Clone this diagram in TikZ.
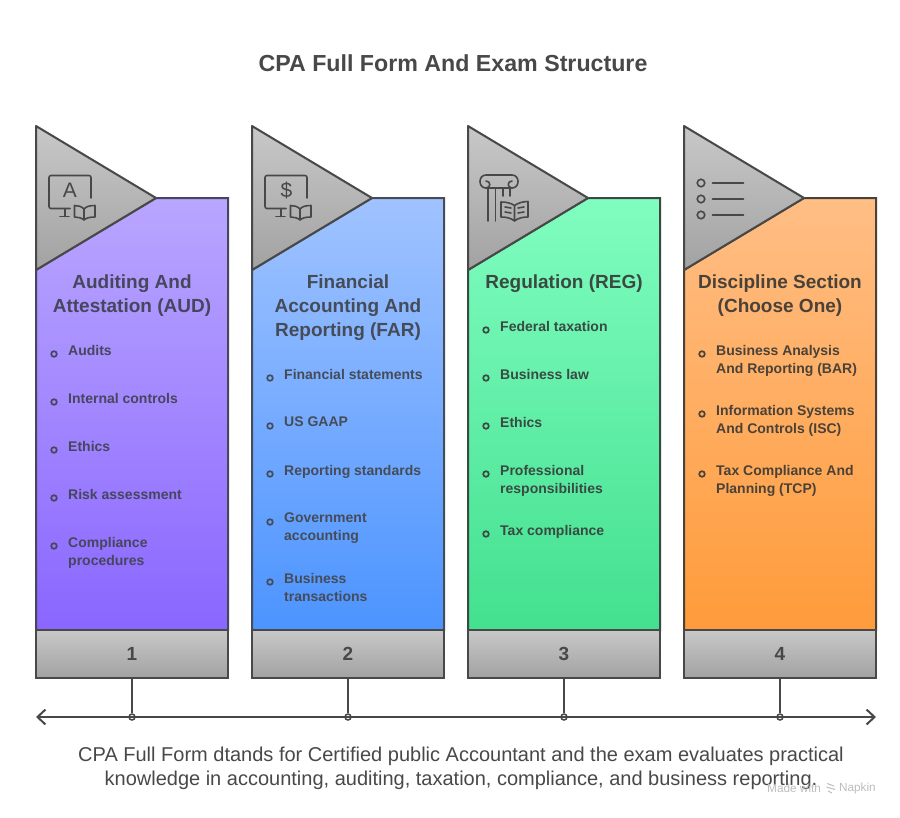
\documentclass[tikz,border=0pt]{standalone}
\usepackage{fontspec}
\setmainfont{Liberation Sans}
\usetikzlibrary{arrows.meta}
\definecolor{inkgrey}{HTML}{484848}
\definecolor{greytop}{HTML}{C8C8C8}
\definecolor{greybot}{HTML}{A2A2A2}
\definecolor{purpletop}{HTML}{B9A6FF}
\definecolor{purplebot}{HTML}{8A66FF}
\definecolor{bluetop}{HTML}{A0C3FF}
\definecolor{bluebot}{HTML}{4C94FF}
\definecolor{greentop}{HTML}{80FDC0}
\definecolor{greenbot}{HTML}{43E08F}
\definecolor{orangetop}{HTML}{FFBE85}
\definecolor{orangebot}{HTML}{FF9B3A}
\definecolor{purpleline}{HTML}{46465C}
\definecolor{blueline}{HTML}{454C58}
\definecolor{greenline}{HTML}{3A4A42}
\definecolor{orangeline}{HTML}{4A4238}
\tikzset{
  titletext/.style={font=\bfseries\fontsize{23.2}{28}\selectfont,text=inkgrey},
  headtext/.style={font=\bfseries\fontsize{19}{24}\selectfont,align=center},
  itemtext/.style={font=\bfseries\fontsize{14}{18}\selectfont,align=left,anchor=north west,inner sep=0pt},
  bullet/.style={circle,draw=inkgrey,line width=1.7pt,fill=none,minimum size=5.6pt,inner sep=0pt},
  numbox/.style={draw=inkgrey,line width=2pt,top color=greytop,bottom color=greybot,minimum width=192pt,minimum height=48pt,inner sep=0pt,
    font=\bfseries\fontsize{19}{22}\selectfont,text=inkgrey},
  tickdot/.style={circle,draw=inkgrey,line width=1.5pt,fill=none,minimum size=6pt,inner sep=0pt},
  wedge/.style={draw=inkgrey,line width=2pt,line join=round,top color=greytop,bottom color=greybot},
  icon/.style={draw=inkgrey,line width=1.6pt,line cap=round,line join=round},
  listdot/.style={circle,draw=inkgrey,line width=1.6pt,minimum size=7.5pt,inner sep=0pt},
  glyph/.style={font=\fontsize{21}{21}\selectfont,text=inkgrey,inner sep=0pt},
  capline/.style={font=\fontsize{20}{24}\selectfont,text=inkgrey,align=center},
}
\begin{document}
\begin{tikzpicture}[x=1pt,y=-1pt]
  \useasboundingbox (0,0) rectangle (900,817);

  \node[titletext] (title) at (453,63) {CPA Full Form And Exam Structure};

  % column bodies
  \shade[draw=purpleline,line width=2pt,top color=purpletop,bottom color=purplebot] (156,198) -- (228,198) -- (228,630) -- (36,630) -- (36,270) -- cycle;
  \shade[draw=blueline,line width=2pt,top color=bluetop,bottom color=bluebot] (372,198) -- (444,198) -- (444,630) -- (252,630) -- (252,270) -- cycle;
  \shade[draw=greenline,line width=2pt,top color=greentop,bottom color=greenbot] (588,198) -- (660,198) -- (660,630) -- (468,630) -- (468,270) -- cycle;
  \shade[draw=orangeline,line width=2pt,top color=orangetop,bottom color=orangebot] (804,198) -- (876,198) -- (876,630) -- (684,630) -- (684,270) -- cycle;

  % wedges
  \shade[wedge] (36,126) -- (156,198) -- (36,270) -- cycle;
  \shade[wedge] (252,126) -- (372,198) -- (252,270) -- cycle;
  \shade[wedge] (468,126) -- (588,198) -- (468,270) -- cycle;
  \shade[wedge] (684,126) -- (804,198) -- (684,270) -- cycle;

  % icon 1
  \draw[icon,rounded corners=2pt] (91,198) -- (91,175.5) -- (49,175.5) -- (49,208.5) -- (70,208.5);
  \node[glyph] (letterA) at (70,190.5) {A};
  \draw[icon] (65,209) -- (65,216.5) (60,216.5) -- (69,216.5);
  \draw[icon] (84,209) .. controls (82,206.5) and (78,205.5) .. (74.5,205.5) -- (74.5,217) .. controls (78,217) and (82,218) .. (84,220) .. controls (86,218) and (90,217) .. (95,217) -- (95,205.5) .. controls (90,205.5) and (86,206.5) .. (84,209) -- (84,220);
  % icon 2
  \draw[icon,rounded corners=2pt] (307,198) -- (307,175.5) -- (265,175.5) -- (265,208.5) -- (286,208.5);
  \node[glyph] (letterS) at (286.5,190.5) {\$};
  \draw[icon] (281,209) -- (281,216.5) (276,216.5) -- (285,216.5);
  \draw[icon] (300,209) .. controls (298,206.5) and (294,205.5) .. (290.5,205.5) -- (290.5,217) .. controls (294,217) and (298,218) .. (300,220) .. controls (302,218) and (306,217) .. (311,217) -- (311,205.5) .. controls (306,205.5) and (302,206.5) .. (300,209) -- (300,220);
  % icon 3
  \draw[icon] (486,181) .. controls (491,181) and (491,188) .. (486,188) .. controls (478,188) and (478,175) .. (486,175) -- (512,175) .. controls (520,175) and (520,188) .. (512,188) .. controls (507,188) and (507,181) .. (512,181);
  \draw[icon] (486,188) -- (512,188);
  \draw[icon] (488,188) -- (488,221) (495.5,188) -- (495.5,221) (503,188) -- (503,196) (510,188) -- (510,196);
  \draw[icon] (514.5,205.5) .. controls (511,203) and (506,202) .. (501,202) -- (501,217) .. controls (506,217) and (511,218) .. (514.5,221) .. controls (518,218) and (523,217) .. (528,217) -- (528,201.5) .. controls (523,201.5) and (518,203) .. (514.5,205.5) -- (514.5,221);
  \draw[icon] (505,207) -- (511,208) (505,212) -- (511,213) (518,208) -- (524,207) (518,213) -- (524,212);
  % icon 4
  \node[listdot] (list1) at (701,183) {};
  \node[listdot] (list2) at (701,199) {};
  \node[listdot] (list3) at (701,215) {};
  \draw[icon] (712.5,183) -- (743.5,183) (712.5,199) -- (743.5,199) (712.5,215) -- (743.5,215);

  % column 1
  \begin{scope}[text=purpleline,bullet/.append style={draw=purpleline}]
    \node[headtext] (head1) at (132,296) {Auditing And\\Attestation (AUD)};
    \node[bullet] (b11) at (54,354) {};
    \node[itemtext] (t11) at (68,345) {Audits};
    \node[bullet] (b12) at (54,402) {};
    \node[itemtext] (t12) at (68,393) {Internal controls};
    \node[bullet] (b13) at (54,450) {};
    \node[itemtext] (t13) at (68,441) {Ethics};
    \node[bullet] (b14) at (54,498) {};
    \node[itemtext] (t14) at (68,489) {Risk assessment};
    \node[bullet] (b15) at (54,546) {};
    \node[itemtext] (t15) at (68,537) {Compliance\\procedures};
  \end{scope}

  % column 2
  \begin{scope}[text=blueline,bullet/.append style={draw=blueline}]
    \node[headtext] (head2) at (348,308) {Financial\\Accounting And\\Reporting (FAR)};
    \node[bullet] (b21) at (270,378) {};
    \node[itemtext] (t21) at (284,369) {Financial statements};
    \node[bullet] (b22) at (270,426) {};
    \node[itemtext] (t22) at (284,417) {US GAAP};
    \node[bullet] (b23) at (270,474) {};
    \node[itemtext] (t23) at (284,465) {Reporting standards};
    \node[bullet] (b24) at (270,522) {};
    \node[itemtext] (t24) at (284,513) {Government\\accounting};
    \node[bullet] (b25) at (270,582) {};
    \node[itemtext] (t25) at (284,573) {Business\\transactions};
  \end{scope}

  % column 3
  \begin{scope}[text=greenline,bullet/.append style={draw=greenline}]
    \node[headtext] (head3) at (564,284) {Regulation (REG)};
    \node[bullet] (b31) at (486,330) {};
    \node[itemtext] (t31) at (500,321) {Federal taxation};
    \node[bullet] (b32) at (486,378) {};
    \node[itemtext] (t32) at (500,369) {Business law};
    \node[bullet] (b33) at (486,426) {};
    \node[itemtext] (t33) at (500,417) {Ethics};
    \node[bullet] (b34) at (486,474) {};
    \node[itemtext] (t34) at (500,465) {Professional\\responsibilities};
    \node[bullet] (b35) at (486,534) {};
    \node[itemtext] (t35) at (500,525) {Tax compliance};
  \end{scope}

  % column 4
  \begin{scope}[text=orangeline,bullet/.append style={draw=orangeline}]
    \node[headtext] (head4) at (780,296) {Discipline Section\\(Choose One)};
    \node[bullet] (b41) at (702,354) {};
    \node[itemtext] (t41) at (716,345) {Business Analysis\\And Reporting (BAR)};
    \node[bullet] (b42) at (702,414) {};
    \node[itemtext] (t42) at (716,405) {Information Systems\\And Controls (ISC)};
    \node[bullet] (b43) at (702,474) {};
    \node[itemtext] (t43) at (716,465) {Tax Compliance And\\Planning (TCP)};
  \end{scope}

  % number boxes
  \node[numbox] (num1) at (132,654) {1};
  \node[numbox] (num2) at (348,654) {2};
  \node[numbox] (num3) at (564,654) {3};
  \node[numbox] (num4) at (780,654) {4};

  % time line
  \coordinate (axisl) at (36,717);
  \coordinate (axisr) at (876,717);
  \draw[draw=inkgrey,line width=2pt,{Straight Barb[length=8pt,width=15pt,line width=2pt]}-{Straight Barb[length=8pt,width=15pt,line width=2pt]}] (axisl) -- (axisr);

  \node[tickdot] (dot1) at (132,717) {};
  \node[tickdot] (dot2) at (348,717) {};
  \node[tickdot] (dot3) at (564,717) {};
  \node[tickdot] (dot4) at (780,717) {};

  \draw[draw=inkgrey,line width=2pt] (num1) -- (dot1);
  \draw[draw=inkgrey,line width=2pt] (num2) -- (dot2);
  \draw[draw=inkgrey,line width=2pt] (num3) -- (dot3);
  \draw[draw=inkgrey,line width=2pt] (num4) -- (dot4);

  \node[capline] (caption) at (461,768) {CPA Full Form dtands for Certified public Accountant and the exam evaluates practical\\knowledge in accounting, auditing, taxation, compliance, and business reporting.};

  % made with
  \node[font=\fontsize{11.8}{13}\selectfont,text=black!26,anchor=west,inner sep=0pt] (brand) at (767,788) {Made with};
  \node[font=\fontsize{11.8}{13}\selectfont,text=black!26,anchor=east,inner sep=0pt] (brandname) at (876,788) {Napkin};
  \draw[draw=black!26,line width=1pt] (827,783.5) -- (834,786) (826.5,787) -- (835,789.5) (828,791) -- (832,793);
\end{tikzpicture}
\end{document}
